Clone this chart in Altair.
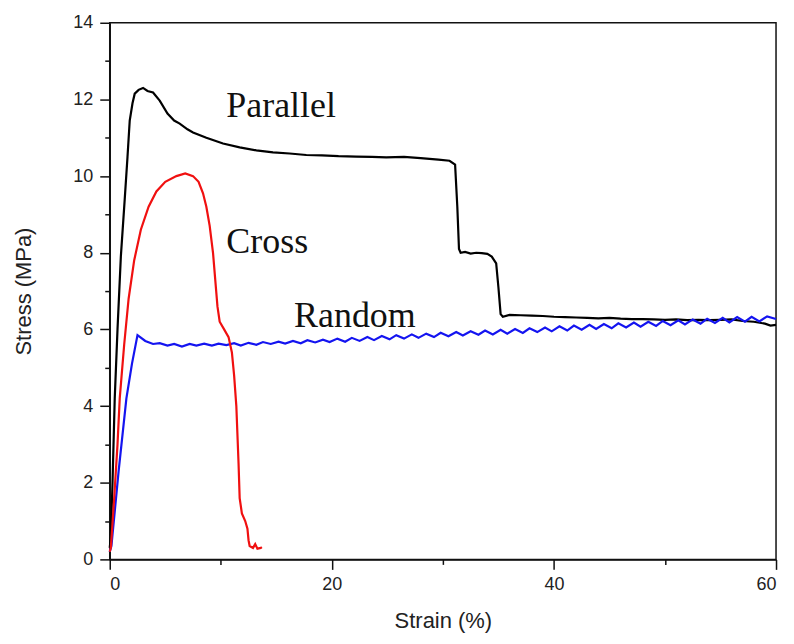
import altair as alt
import pandas as pd

# Parallel (black)
par_x = [0.0, 0.1, 0.25, 0.45, 0.7, 1.0, 1.35, 1.6, 1.8, 2.05, 2.25, 2.6, 3.0, 3.4, 3.9, 4.5, 5.2, 5.8, 6.3, 7.0, 7.5, 8.7, 10.2, 11.7, 13.2, 14.7, 16.2, 17.7, 19.1, 20.6, 22.2, 23.6, 24.9, 26.5, 28.0, 29.6, 30.6, 31.1, 31.3, 31.45, 31.6, 32.0, 32.5, 33.0, 33.5, 34.0, 34.4, 34.8, 35.0, 35.2, 35.4, 36.0, 37.0, 38.0, 39.0, 40.0, 41.0, 42.0, 43.0, 44.0, 45.0, 46.0, 47.0, 48.0, 49.0, 50.0, 51.0, 52.0, 53.0, 54.0, 55.0, 56.0, 57.0, 58.0, 59.0, 59.5, 60.0]
par_y = [0.3, 0.6, 2.0, 4.2, 6.0, 7.9, 9.4, 10.5, 11.45, 11.9, 12.15, 12.25, 12.3, 12.22, 12.18, 11.97, 11.63, 11.45, 11.37, 11.22, 11.14, 11.0, 10.85, 10.75, 10.67, 10.62, 10.59, 10.55, 10.54, 10.52, 10.51, 10.5, 10.49, 10.5, 10.47, 10.43, 10.4, 10.3, 9.2, 8.1, 8.0, 8.02, 7.98, 8.0, 7.99, 7.97, 7.9, 7.72, 7.1, 6.4, 6.33, 6.38, 6.37, 6.36, 6.35, 6.33, 6.32, 6.31, 6.3, 6.29, 6.3, 6.28, 6.27, 6.27, 6.26, 6.25, 6.26, 6.24, 6.25, 6.24, 6.25, 6.26, 6.22, 6.2, 6.15, 6.1, 6.12]

# Cross (red)
cro_x = [0.0, 0.1, 0.4, 0.7, 0.9, 1.3, 1.7, 2.2, 2.8, 3.5, 4.2, 5.0, 6.0, 6.8, 7.5, 8.0, 8.4, 8.7, 9.0, 9.3, 9.5, 9.7, 9.9, 10.3, 10.7, 11.0, 11.2, 11.4, 11.6, 11.7, 11.9, 12.2, 12.4, 12.5, 12.6, 12.9, 13.1, 13.3, 13.6, 13.7]
cro_y = [0.2, 0.3, 1.6, 3.0, 4.2, 5.6, 6.8, 7.8, 8.6, 9.2, 9.6, 9.85, 10.0, 10.07, 10.0, 9.85, 9.55, 9.2, 8.7, 8.0, 7.3, 6.6, 6.2, 6.0, 5.8, 5.4, 4.8, 4.0, 2.5, 1.6, 1.2, 1.0, 0.8, 0.5, 0.35, 0.3, 0.4, 0.28, 0.3, 0.32]

# Random (blue)
ran_x = [0.0, 0.15, 0.8, 1.5, 2.0, 2.5, 3.2, 3.9, 4.5, 5.2, 5.8, 6.5, 7.2, 7.8, 8.5, 9.2, 9.8, 10.5, 11.2, 11.8, 12.5, 13.2, 13.8, 14.5, 15.2, 15.8, 16.5, 17.2, 17.8, 18.5, 19.2, 19.8, 20.5, 21.2, 21.8, 22.5, 23.2, 23.8, 24.5, 25.2, 25.8, 26.5, 27.2, 27.8, 28.5, 29.2, 29.8, 30.5, 31.2, 31.8, 32.5, 33.2, 33.8, 34.5, 35.2, 35.8, 36.5, 37.2, 37.8, 38.5, 39.2, 39.8, 40.5, 41.2, 41.8, 42.5, 43.2, 43.8, 44.5, 45.2, 45.8, 46.5, 47.2, 47.8, 48.5, 49.2, 49.8, 50.5, 51.2, 51.8, 52.5, 53.2, 53.8, 54.5, 55.2, 55.8, 56.5, 57.2, 57.8, 58.5, 59.2, 60.0]
ran_y = [0.2, 0.35, 2.3, 4.2, 5.1, 5.85, 5.7, 5.62, 5.64, 5.58, 5.62, 5.55, 5.62, 5.58, 5.63, 5.58, 5.63, 5.59, 5.64, 5.58, 5.65, 5.6, 5.67, 5.62, 5.68, 5.63, 5.7, 5.64, 5.72, 5.66, 5.73, 5.67, 5.76, 5.68, 5.78, 5.7, 5.8, 5.72, 5.83, 5.74, 5.85, 5.76, 5.87, 5.78, 5.89, 5.8, 5.91, 5.82, 5.93, 5.84, 5.95, 5.86, 5.97, 5.87, 5.99, 5.89, 6.01, 5.91, 6.03, 5.93, 6.05, 5.95, 6.08, 5.97, 6.1, 5.99, 6.12, 6.01, 6.14, 6.03, 6.16, 6.05, 6.18, 6.07, 6.2, 6.09, 6.22, 6.11, 6.24, 6.13, 6.26, 6.15, 6.28, 6.17, 6.3, 6.18, 6.32, 6.2, 6.33, 6.21, 6.34, 6.27]

label_text = ["Parallel", "Cross", "Random"]
label_x = [10.5, 10.5, 16.6]
label_y = [11.53, 7.99, 6.06]

x_scale = alt.Scale(domain=[0, 60], nice=False, zero=False)
y_scale = alt.Scale(domain=[0, 14], nice=False, zero=False)

common = dict(
    grid=False,
    labelFont="Liberation Sans",
    labelFontSize=18,
    labelColor="#222",
    titleFont="Liberation Sans",
    titleFontSize=22,
    titleFontWeight="normal",
    titleColor="#222",
    domainColor="#111",
    domainWidth=1.5,
    tickColor="#111",
    tickWidth=1.5,
)

x_axis = alt.Axis(
    title="Strain (%)",
    values=list(range(0, 61, 10)),
    labelExpr="datum.value % 20 === 0 ? datum.label : ''",
    tickSize={"condition": {"test": "datum.value % 20 === 0", "value": 10}, "value": 5},
    labelPadding=6,
    titlePadding=17,
    **common,
)
y_axis = alt.Axis(
    title="Stress (MPa)",
    values=list(range(0, 15)),
    labelExpr="datum.value % 2 === 0 ? datum.label : ''",
    tickSize={"condition": {"test": "datum.value % 2 === 0", "value": 10}, "value": 5},
    labelPadding=7,
    titlePadding=37,
    **common,
)


def series(xs, ys, color):
    df = pd.DataFrame({"strain": xs, "stress": ys, "i": range(len(xs))})
    return alt.Chart(df).mark_line(color=color, strokeWidth=2.2).encode(
        x=alt.X("strain:Q", scale=x_scale, axis=x_axis),
        y=alt.Y("stress:Q", scale=y_scale, axis=y_axis),
        order="i:Q",
    )


labels_df = pd.DataFrame({"t": label_text, "x": label_x, "y": label_y})
labels = alt.Chart(labels_df).mark_text(
    font="Liberation Serif", fontSize=36, align="left", baseline="alphabetic", color="#111"
).encode(
    x=alt.X("x:Q", scale=x_scale, axis=x_axis),
    y=alt.Y("y:Q", scale=y_scale, axis=y_axis),
    text="t:N",
)

chart = alt.layer(
    series(par_x, par_y, "#000000"),
    series(ran_x, ran_y, "#1414f0"),
    series(cro_x, cro_y, "#f01010"),
    labels,
).properties(
    width=668,
    height=538,
    background="white",
    autosize=alt.AutoSizeParams(type="none"),
    padding={"left": 102, "top": 14, "right": 10, "bottom": 76},
).configure_view(
    stroke="#111", strokeWidth=1.5
)

chart.save("out.html", embed_options={"renderer": "svg", "actions": False})
